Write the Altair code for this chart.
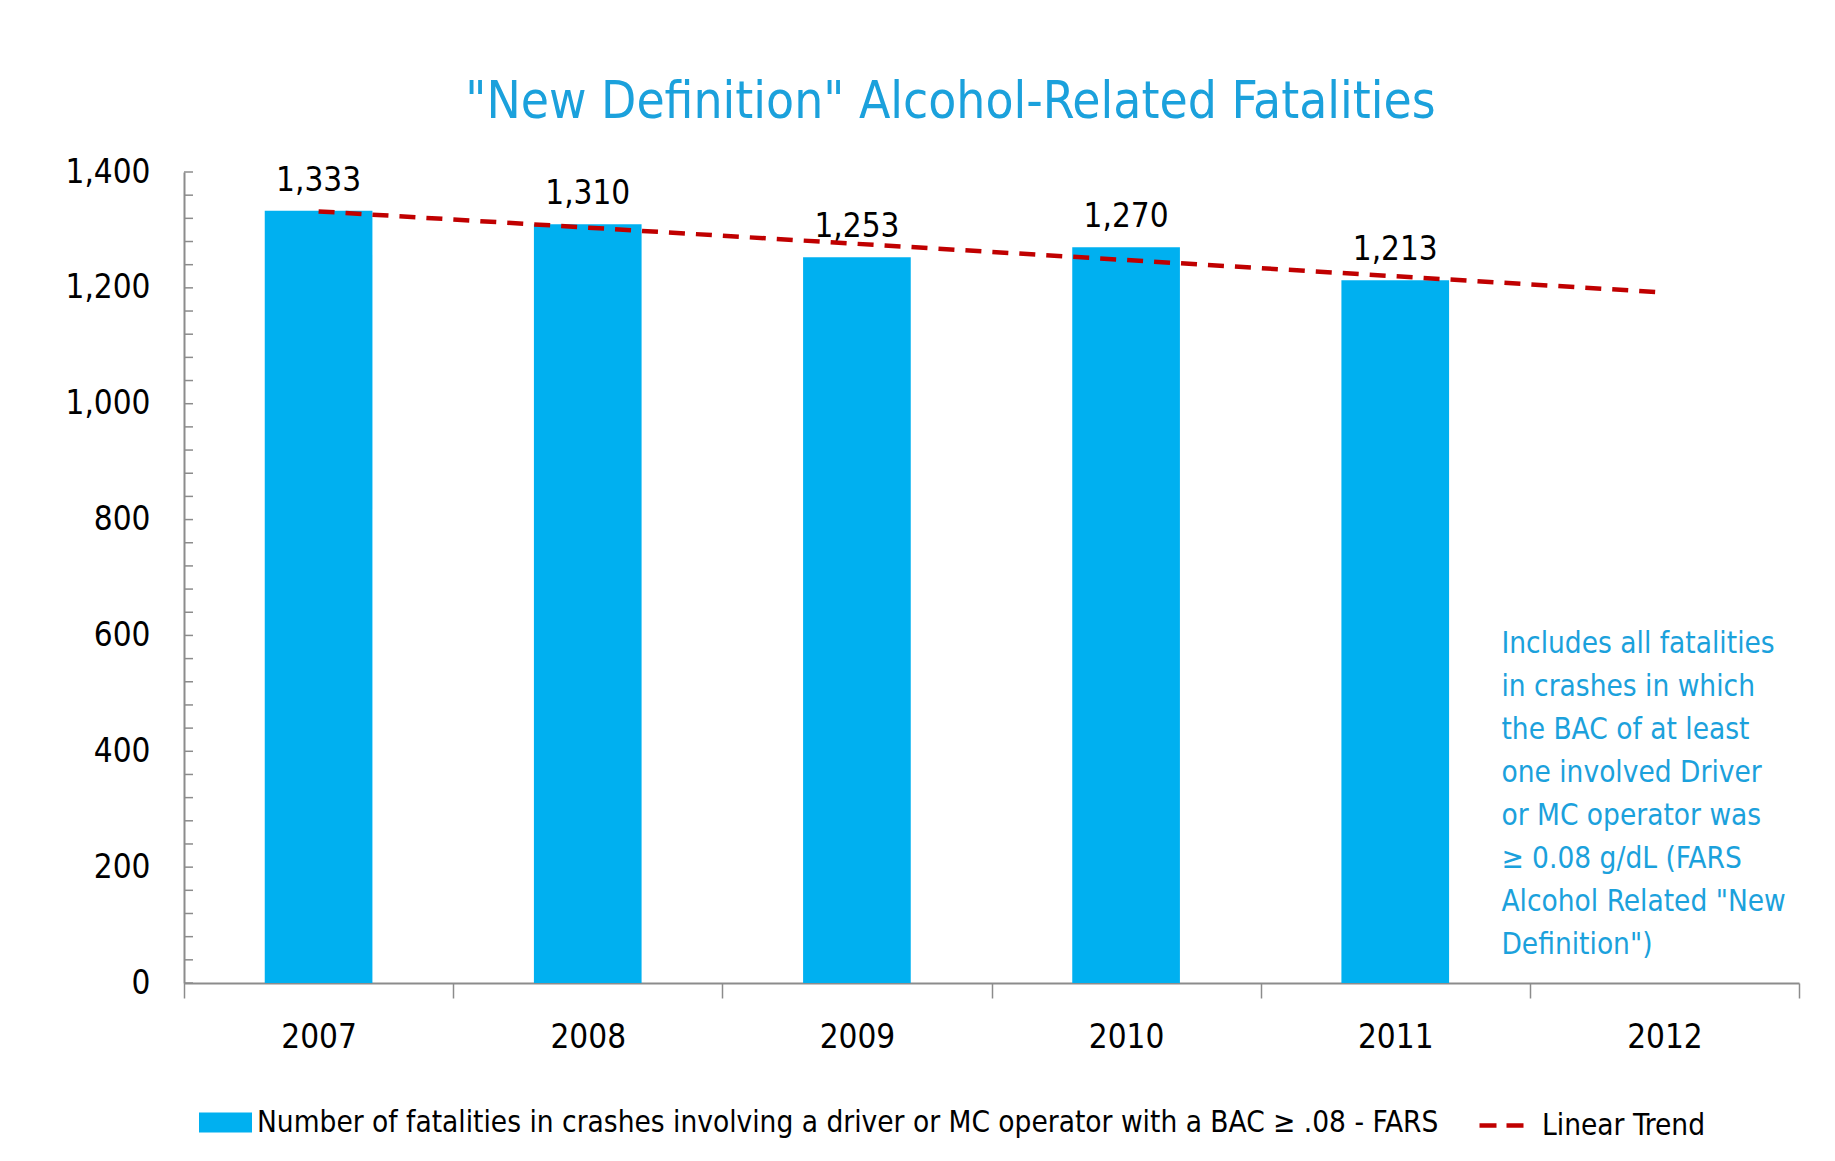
import altair as alt
import pandas as pd

# ---- data ----
years = ["2007", "2008", "2009", "2010", "2011", "2012"]
bar_years = ["2007", "2008", "2009", "2010", "2011"]
fatalities = [1333, 1310, 1253, 1270, 1213]
trend_years = ["2007", "2012"]
trend_values = [1332, 1192]
y_labels = [0, 200, 400, 600, 800, 1000, 1200, 1400]
minor_ticks = [0, 40, 80, 120, 160, 200, 240, 280, 320, 360, 400, 440, 480, 520, 560, 600,
               640, 680, 720, 760, 800, 840, 880, 920, 960, 1000, 1040, 1080, 1120, 1160,
               1200, 1240, 1280, 1320, 1360, 1400]
bar_series = "Number of fatalities in crashes involving a driver or MC operator with a BAC \u2265 .08 - FARS"
trend_series = "Linear Trend"
note_lines = [
    "Includes all fatalities",
    "in crashes in which",
    "the BAC of at least",
    "one involved Driver",
    "or MC operator was",
    "\u2265 0.08 g/dL (FARS",
    "Alcohol Related \"New",
    "Definition\")",
]
note_year = ["2012"]
note_value = [570]
title_text = "\"New Definition\" Alcohol-Related Fatalities"

FONT = "DejaVu Sans Condensed, Liberation Sans, sans-serif"
BLUE = "#00B0F0"
RED = "#C00000"
TEXTBLUE = "#1BA1DC"
AXIS = "#8C8C8C"

W, H = 1615, 811

bars_df = pd.DataFrame({"year": bar_years, "value": fatalities, "series": [bar_series] * len(bar_years)})
trend_df = pd.DataFrame({"year": trend_years, "value": trend_values, "series": [trend_series] * len(trend_years)})
ticks_df = pd.DataFrame({"value": minor_ticks})
note_df = pd.DataFrame({"year": note_year, "value": note_value, "text": ["\n".join(note_lines)]})

x_scale = alt.Scale(domain=years, paddingInner=0, paddingOuter=0)
y_scale = alt.Scale(domain=[0, 1400], nice=False, zero=True)

x_enc = alt.X(
    "year:N",
    scale=x_scale,
    axis=alt.Axis(
        labelAngle=0, tickBand="extent", tickSize=15, tickColor=AXIS, tickWidth=1.5,
        domainColor=AXIS, domainWidth=2, labelPadding=23, labelFont=FONT,
        labelFontSize=33, labelColor="#000000", grid=False,
    ),
    title=None,
)
y_enc = alt.Y(
    "value:Q",
    scale=y_scale,
    axis=alt.Axis(
        values=y_labels, labelExpr="format(datum.value, ',')", ticks=False, labelPadding=34,
        labelFont=FONT, labelFontSize=33, labelColor="#000000", domainColor=AXIS,
        domainWidth=2, grid=False,
    ),
    title=None,
)
x_plain = alt.X("year:N", scale=x_scale, title=None)
y_plain = alt.Y("value:Q", scale=y_scale, title=None)

bars = alt.Chart(bars_df).mark_bar(width=alt.RelativeBandSize(0.4)).encode(
    x=x_enc,
    y=y_enc,
    color=alt.Color(
        "series:N",
        scale=alt.Scale(domain=[bar_series], range=[BLUE]),
        legend=alt.Legend(
            orient="none", legendX=15, legendY=924, title=None,
            symbolType="M-1,-0.377H1V0.377H-1Z", symbolSize=2809, symbolStrokeWidth=0,
            labelFont=FONT, labelFontSize=29.5, labelColor="#000000", labelLimit=0,
            labelOffset=5, padding=0,
        ),
    ),
)

labels = alt.Chart(bars_df).mark_text(
    font=FONT, fontSize=33, color="#000000", baseline="alphabetic", dy=-20
).encode(
    x=x_plain,
    y=y_plain,
    text=alt.Text("value:Q", format=","),
)

trend = alt.Chart(trend_df).mark_line(strokeDash=[16, 11], strokeWidth=4.5).encode(
    x=x_plain,
    y=y_plain,
    color=alt.Color(
        "series:N",
        scale=alt.Scale(domain=[trend_series], range=[RED]),
        legend=alt.Legend(
            orient="none", legendX=1293, legendY=929, title=None,
            symbolType="stroke", symbolSize=1936, symbolStrokeWidth=4.5, symbolDash=[17, 10],
            labelFont=FONT, labelFontSize=29.5, labelColor="#000000", labelLimit=0,
            labelOffset=16, padding=0,
        ),
    ),
)

minor = alt.Chart(ticks_df).mark_rule(color=AXIS, strokeWidth=1.5).encode(
    y=y_plain,
    x=alt.value(0),
    x2=alt.value(9),
)

note = alt.Chart(note_df).mark_text(
    font=FONT, fontSize=29.5, color=TEXTBLUE, align="left", baseline="alphabetic",
    lineBreak="\n", lineHeight=43, dx=-163,
).encode(
    x=x_plain,
    y=y_plain,
    text="text:N",
)

chart = alt.layer(bars, minor, labels, trend, note).resolve_scale(
    color="independent"
).properties(
    width=W,
    height=H,
    autosize=alt.AutoSizeParams(type="none"),
    padding={"left": 176, "top": 164, "right": 28, "bottom": 160},
    title=alt.Title(
        text=title_text, font=FONT, fontSize=51, color=TEXTBLUE, fontWeight="normal",
        anchor="middle", dx=-41, offset=-13, baseline="alphabetic", frame="group",
    ),
).configure(background="#FFFFFF").configure_view(stroke=None)

chart.save("out.html", embed_options={"renderer": "svg", "actions": False})
